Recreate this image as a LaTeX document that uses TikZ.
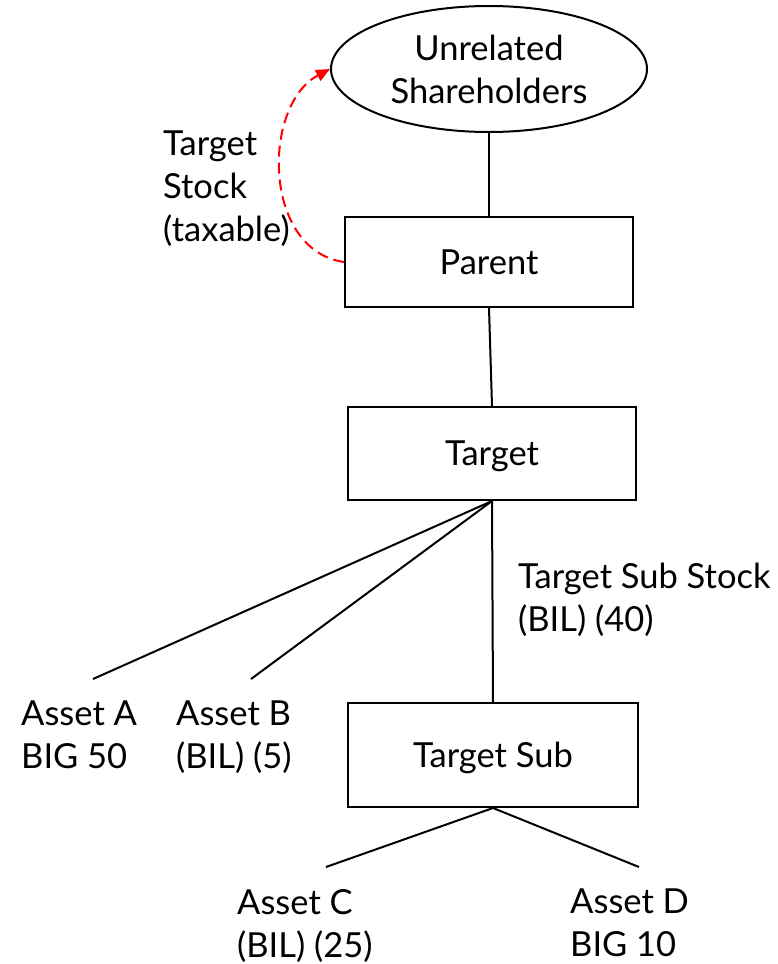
\documentclass[tikz,border=0pt]{standalone}
\usepackage{fontspec}
\setmainfont{Lato}
\usetikzlibrary{shapes.geometric,arrows.meta}
\begin{document}
\begin{tikzpicture}[x=1pt,y=-1pt,
  every node/.style={font=\fontsize{34.5}{43}\selectfont},
  entity/.style={draw,line width=2pt,rectangle,inner sep=0pt,text depth=0pt},
  holder/.style={draw,line width=2pt,ellipse,inner sep=0pt,align=center},
  label/.style={inner sep=0pt,anchor=north west,align=left},
  link/.style={line width=2pt},
  flow/.style={draw=red,line width=2pt,dash pattern=on 11pt off 6pt,
    -{Triangle[length=14pt,width=12pt]}}]
\useasboundingbox (0,0) rectangle (778,964);

% owners and entities
\node[holder,minimum width=316pt,minimum height=126pt] (sh) at (489,69)
  {Unrelated\\Shareholders};
\node[entity,minimum width=288pt,minimum height=90pt] (parent) at (489,262) {Parent};
\node[entity,minimum width=288pt,minimum height=93pt] (target) at (492,453.5) {Target};
\node[entity,minimum width=290pt,minimum height=104pt] (tsub) at (493,755) {Target Sub};

% asset labels
\node[label] (tstock) at (163,131) {Target\\Stock\\(taxable)};
\node[label] (substock) at (518,563) {Target Sub Stock\\(BIL) (40)};
\node[label] (assetA) at (21,701) {Asset A\\BIG 50};
\node[label] (assetB) at (176,701) {Asset B\\(BIL) (5)};
\node[label] (assetC) at (237,889) {Asset C\\(BIL) (25)};
\node[label] (assetD) at (570,889) {Asset D\\BIG 10};

% free ends of the asset lines
\coordinate (endA) at (93,679);
\coordinate (endB) at (251,679);
\coordinate (endC) at (326,867);
\coordinate (endD) at (639,867);

% ownership lines
\draw[link] (sh.south) -- (parent.north);
\draw[link] (parent.south) -- (target.north);
\draw[link] (target.south) -- (tsub.north);
\draw[link] (target.south) -- (endA);
\draw[link] (target.south) -- (endB);
\draw[link] (tsub.south) -- (endC);
\draw[link] (tsub.south) -- (endD);

% distribution of target stock
\draw[flow] (parent.west) .. controls (262,250) and (262,105) .. (sh.west);
\end{tikzpicture}
\end{document}
